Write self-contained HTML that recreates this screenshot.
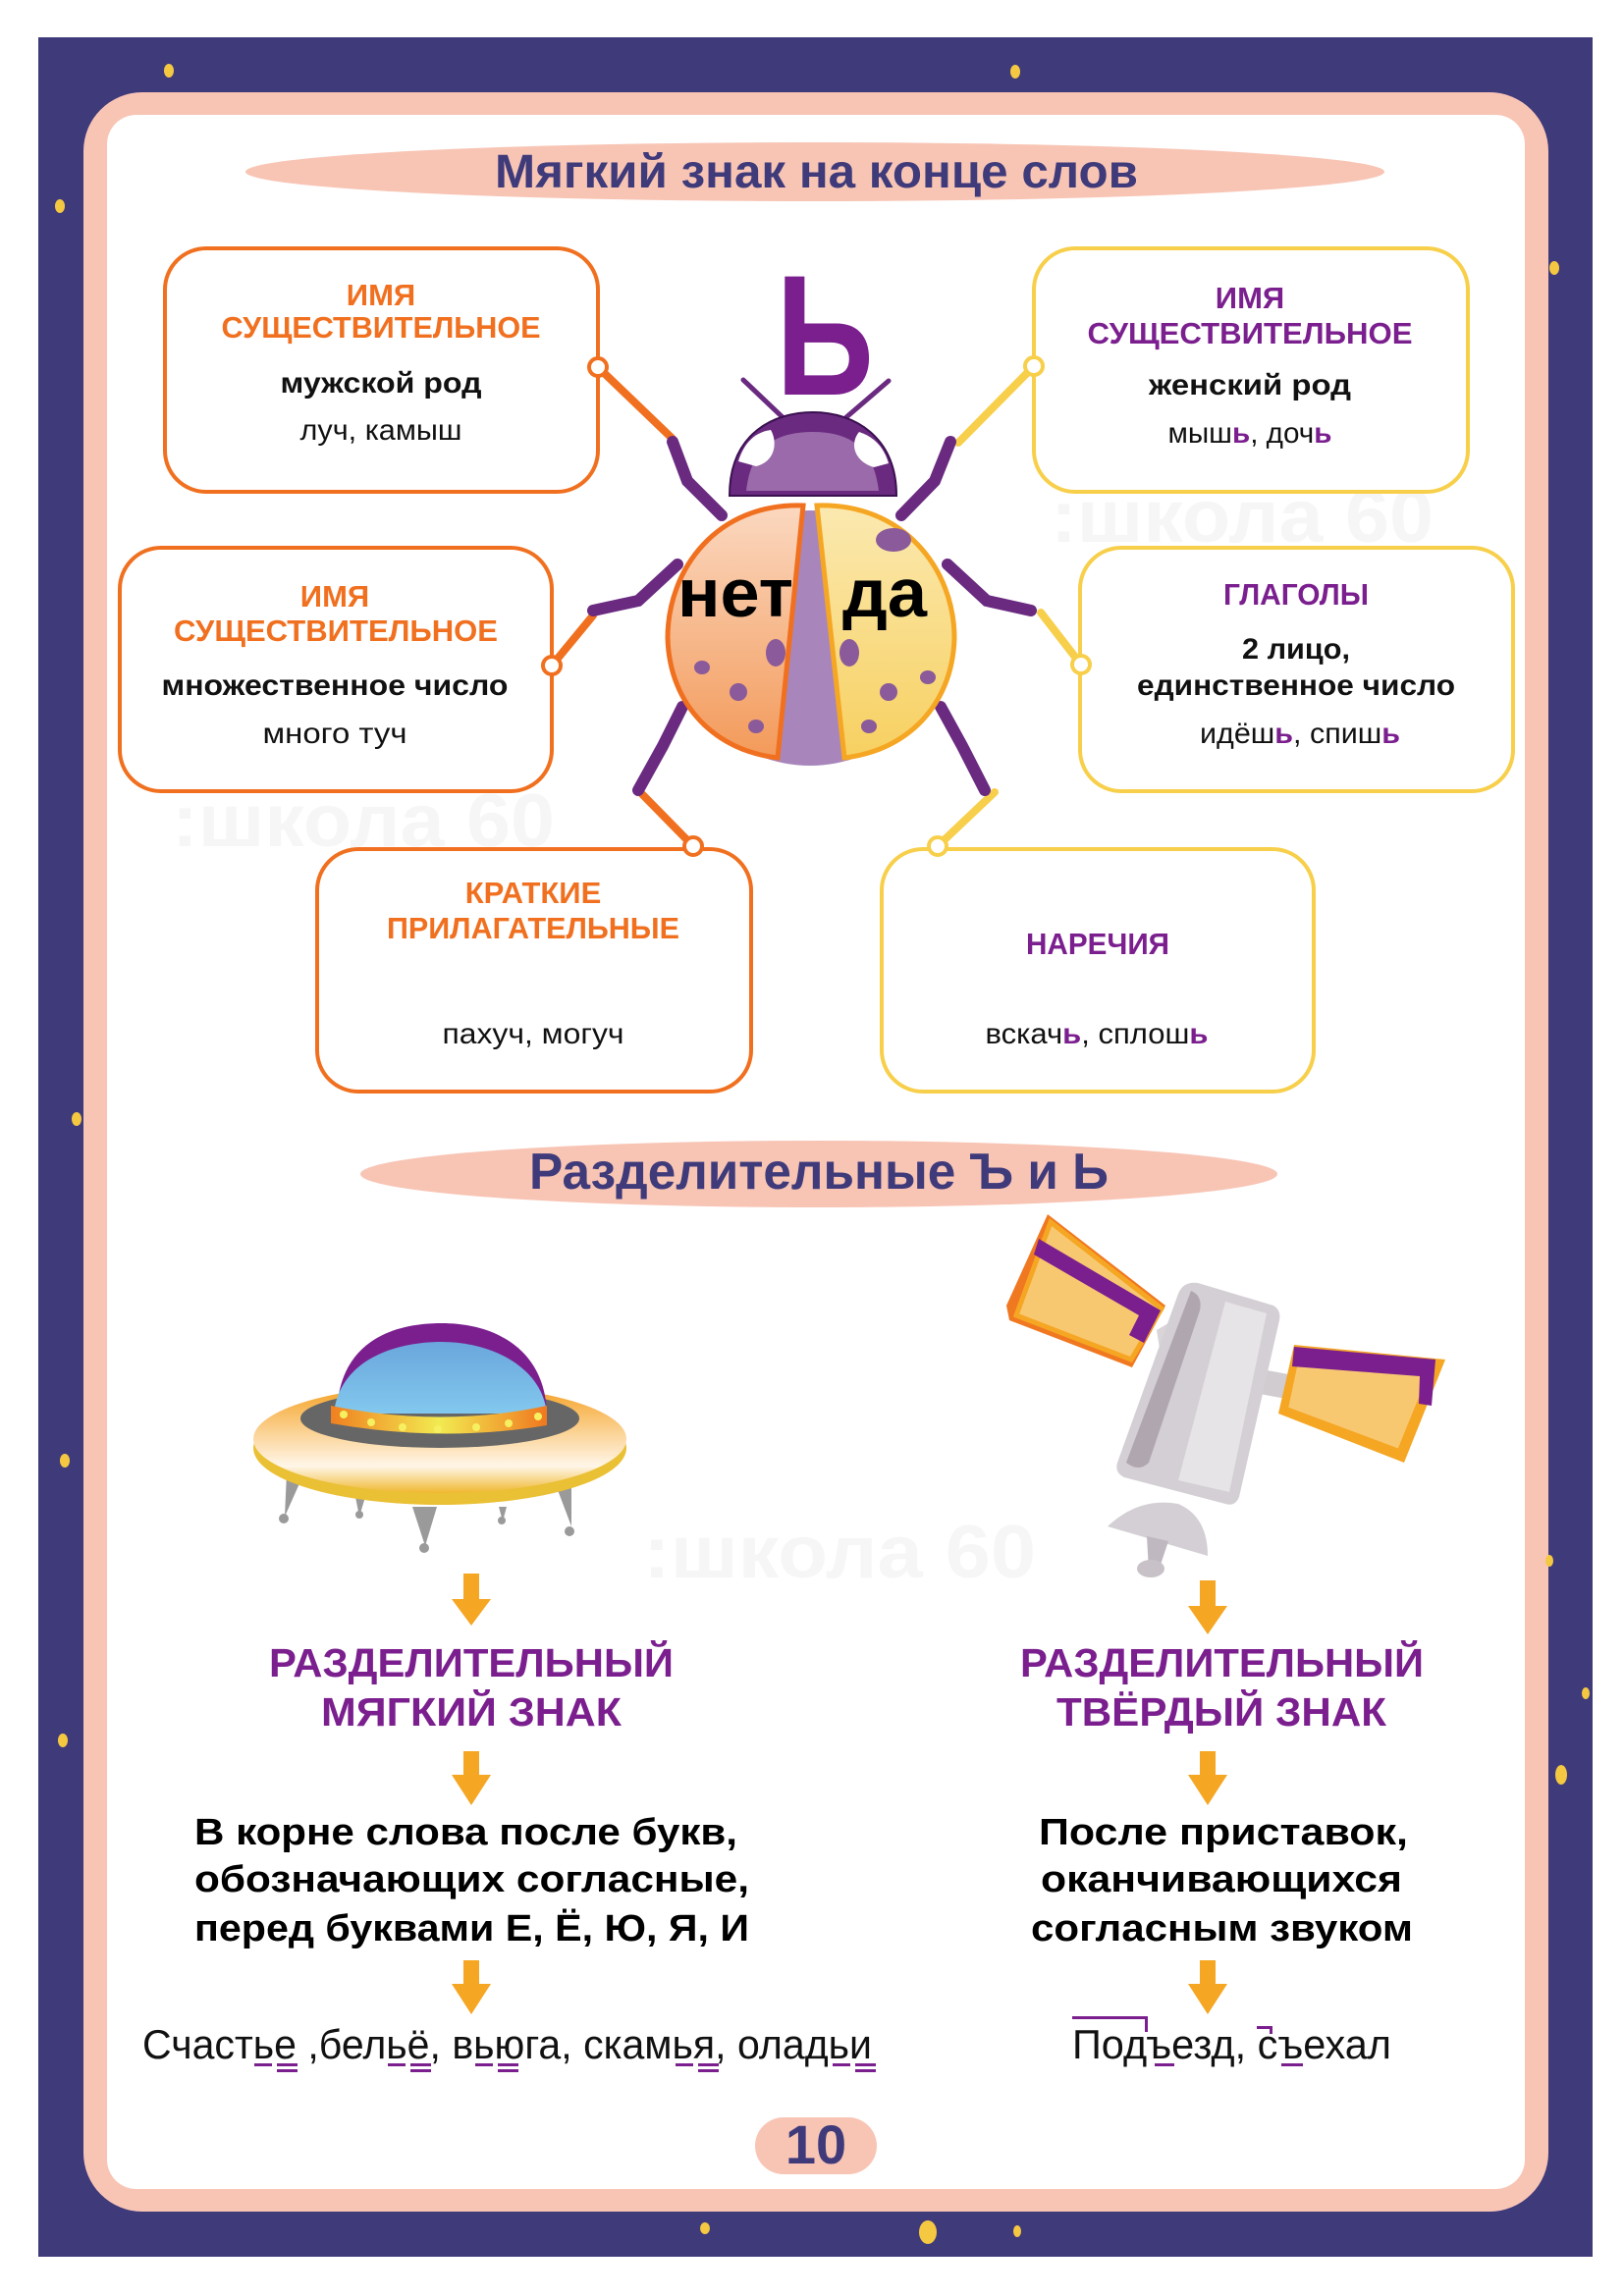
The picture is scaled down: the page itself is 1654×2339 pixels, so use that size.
<!DOCTYPE html>
<html><head><meta charset="utf-8"><style>
html,body{margin:0;padding:0;background:#fff}
svg{display:block}
text{font-family:"Liberation Sans",sans-serif}
</style></head><body>
<svg width="1654" height="2339" viewBox="0 0 1654 2339" xmlns="http://www.w3.org/2000/svg">
<defs>
<linearGradient id="lo" x1="0" y1="0" x2="0" y2="1"><stop offset="0" stop-color="#fbd8c0"/><stop offset="1" stop-color="#f39a5a"/></linearGradient>
<linearGradient id="ry" x1="0" y1="0" x2="0" y2="1"><stop offset="0" stop-color="#fbe9b0"/><stop offset="1" stop-color="#f7d060"/></linearGradient>
<linearGradient id="disk" x1="0" y1="0" x2="0" y2="1"><stop offset="0" stop-color="#f5a020"/><stop offset="0.75" stop-color="#fff6e8"/><stop offset="1" stop-color="#f0b830"/></linearGradient>
<linearGradient id="dome" x1="0" y1="0" x2="0" y2="1"><stop offset="0" stop-color="#6aa6dc"/><stop offset="1" stop-color="#82c8ee"/></linearGradient>
<linearGradient id="band" x1="0" y1="0" x2="1" y2="0"><stop offset="0" stop-color="#f08020"/><stop offset="0.5" stop-color="#f2ea50"/><stop offset="1" stop-color="#f07820"/></linearGradient>
</defs>
<rect width="1654" height="2339" fill="#fff"/>
<rect x="39" y="38" width="1583" height="2261" fill="#3f3a7a"/>
<rect x="85" y="94" width="1492" height="2159" rx="60" fill="#f8c5b5"/>
<rect x="109" y="117" width="1444" height="2113" rx="30" fill="#fff"/>
<g fill="#f5c842">
<ellipse cx="172" cy="72" rx="5" ry="7"/><ellipse cx="1034" cy="73" rx="5" ry="7"/><ellipse cx="61" cy="210" rx="5" ry="7"/><ellipse cx="1583" cy="273" rx="5" ry="7"/><ellipse cx="78" cy="1140" rx="5" ry="7"/><ellipse cx="66" cy="1488" rx="5" ry="7"/><ellipse cx="64" cy="1773" rx="5" ry="7"/><ellipse cx="1590" cy="1808" rx="6" ry="10"/><ellipse cx="1615" cy="1725" rx="4" ry="6"/><ellipse cx="945" cy="2274" rx="9" ry="12"/><ellipse cx="718" cy="2270" rx="5" ry="6"/><ellipse cx="1036" cy="2273" rx="4" ry="6"/><ellipse cx="1578" cy="1590" rx="4" ry="6"/></g>
<g fill="#f6f6f6" font-weight="bold" font-size="76"><text x="1070" y="552" textLength="390" lengthAdjust="spacingAndGlyphs">:школа 60</text><text x="175" y="862" textLength="390" lengthAdjust="spacingAndGlyphs">:школа 60</text><text x="655" y="1607" textLength="400" lengthAdjust="spacingAndGlyphs">:школа 60</text></g>
<ellipse cx="830" cy="175" rx="580" ry="30" fill="#f8c5b5"/>
<text x="504" y="191" font-size="48" font-weight="bold" fill="#3f3a7a" textLength="655" lengthAdjust="spacingAndGlyphs">Мягкий знак на конце слов</text>
<ellipse cx="834" cy="1196" rx="467" ry="34" fill="#f8c5b5"/>
<text x="539" y="1211" font-size="52" font-weight="bold" fill="#3f3a7a" textLength="590" lengthAdjust="spacingAndGlyphs">Разделительные Ъ и Ь</text>
<g fill="#fff" stroke-width="4">
<rect x="168" y="253" width="441" height="248" rx="42" stroke="#f07020"/>
<rect x="1053" y="253" width="442" height="248" rx="42" stroke="#f7cf4a"/>
<rect x="122" y="558" width="440" height="248" rx="42" stroke="#f07020"/>
<rect x="1100" y="558" width="441" height="248" rx="42" stroke="#f7cf4a"/>
<rect x="323" y="865" width="442" height="247" rx="42" stroke="#f07020"/>
<rect x="898" y="865" width="440" height="247" rx="42" stroke="#f7cf4a"/>
</g>
<g stroke-width="8" stroke-linecap="round">
<line x1="609" y1="374" x2="685" y2="447" stroke="#f07020"/>
<line x1="562" y1="678" x2="604" y2="627" stroke="#f07020"/>
<line x1="706" y1="862" x2="652" y2="807" stroke="#f07020"/>
<line x1="1053" y1="373" x2="976" y2="451" stroke="#f7cf4a"/>
<line x1="1101" y1="677" x2="1060" y2="624" stroke="#f7cf4a"/>
<line x1="955" y1="862" x2="1013" y2="807" stroke="#f7cf4a"/>
</g>
<g fill="#fff" stroke-width="4">
<circle cx="609" cy="374" r="9" stroke="#f07020"/><circle cx="562" cy="678" r="9" stroke="#f07020"/><circle cx="706" cy="862" r="9" stroke="#f07020"/>
<circle cx="1053" cy="373" r="9" stroke="#f7cf4a"/><circle cx="1101" cy="677" r="9" stroke="#f7cf4a"/><circle cx="955" cy="862" r="9" stroke="#f7cf4a"/>
</g>
<g font-weight="bold" text-anchor="middle">
<g fill="#f07020" font-size="31">
<text x="388" y="311">ИМЯ</text><text x="388" y="344" textLength="325" lengthAdjust="spacingAndGlyphs">СУЩЕСТВИТЕЛЬНОЕ</text>
<text x="341" y="618">ИМЯ</text><text x="342" y="653" textLength="330" lengthAdjust="spacingAndGlyphs">СУЩЕСТВИТЕЛЬНОЕ</text>
<text x="543" y="920">КРАТКИЕ</text><text x="543" y="956" textLength="298" lengthAdjust="spacingAndGlyphs">ПРИЛАГАТЕЛЬНЫЕ</text>
</g>
<g fill="#7b1f8f" font-size="31">
<text x="1273" y="314">ИМЯ</text><text x="1273" y="350" textLength="331" lengthAdjust="spacingAndGlyphs">СУЩЕСТВИТЕЛЬНОЕ</text>
<text x="1320" y="616" textLength="148" lengthAdjust="spacingAndGlyphs">ГЛАГОЛЫ</text>
<text x="1118" y="972" textLength="146" lengthAdjust="spacingAndGlyphs">НАРЕЧИЯ</text>
</g>
<g fill="#111" font-size="30">
<text x="388" y="400" textLength="205" lengthAdjust="spacingAndGlyphs">мужской род</text>
<text x="1273" y="402" textLength="206" lengthAdjust="spacingAndGlyphs">женский род</text>
<text x="341" y="708" textLength="353" lengthAdjust="spacingAndGlyphs">множественное число</text>
<text x="1320" y="671" textLength="110" lengthAdjust="spacingAndGlyphs">2 лицо,</text>
<text x="1320" y="708" textLength="324" lengthAdjust="spacingAndGlyphs">единственное число</text>
</g>
</g>
<g text-anchor="middle" font-size="30" fill="#111">
<text x="388" y="448" textLength="165" lengthAdjust="spacingAndGlyphs">луч, камыш</text>
<text x="1273" y="451" textLength="167" lengthAdjust="spacingAndGlyphs">мыш<tspan fill="#7b1f8f" font-weight="bold">ь</tspan>, доч<tspan fill="#7b1f8f" font-weight="bold">ь</tspan></text>
<text x="341" y="757" textLength="147" lengthAdjust="spacingAndGlyphs">много туч</text>
<text x="1324" y="757" textLength="204" lengthAdjust="spacingAndGlyphs">идёш<tspan fill="#7b1f8f" font-weight="bold">ь</tspan>, спиш<tspan fill="#7b1f8f" font-weight="bold">ь</tspan></text>
<text x="543" y="1063" textLength="185" lengthAdjust="spacingAndGlyphs">пахуч, могуч</text>
<text x="1117" y="1063" textLength="227" lengthAdjust="spacingAndGlyphs">вскач<tspan fill="#7b1f8f" font-weight="bold">ь</tspan>, сплош<tspan fill="#7b1f8f" font-weight="bold">ь</tspan></text>
</g>
<text x="790" y="402" font-size="175" font-weight="bold" fill="#7b1f8f" textLength="100" lengthAdjust="spacingAndGlyphs">Ь</text>
<g stroke="#6a2a80" stroke-width="12" stroke-linecap="round" fill="none">
<polyline points="685,450 700,490 735,525"/>
<polyline points="968,450 952,490 918,525"/>
<polyline points="604,622 650,612 690,575"/>
<polyline points="1050,622 1005,612 965,575"/>
<polyline points="650,805 675,760 695,720"/>
<polyline points="1003,805 980,760 958,720"/>
<line x1="797" y1="425" x2="757" y2="387" stroke-width="5"/>
<line x1="862" y1="425" x2="905" y2="388" stroke-width="5"/>
</g>
<path d="M743 505 C743 440 790 420 828 420 C870 420 913 445 913 505 Z" fill="#6a2a80" stroke="#3a1050" stroke-width="2"/>
<path d="M760 500 C765 455 790 440 828 440 C870 440 890 460 895 500 Z" fill="#9a6aaa"/>
<path d="M752 470 C758 450 770 440 785 438 C792 450 790 470 770 475 Z" fill="#fff"/>
<path d="M905 472 C900 455 890 445 875 440 C865 452 870 470 890 476 Z" fill="#fff"/>
<ellipse cx="825" cy="650" rx="135" ry="130" fill="#a886bb"/>
<path d="M818 515 C730 512 680 580 680 650 C682 720 730 765 792 772 L818 515 Z" fill="url(#lo)" stroke="#f07020" stroke-width="5"/>
<path d="M832 515 C920 512 972 580 972 650 C970 720 922 765 860 772 L832 515 Z" fill="url(#ry)" stroke="#f5a623" stroke-width="5"/>
<g fill="#8a5a9a">
<ellipse cx="790" cy="665" rx="10" ry="14"/><ellipse cx="715" cy="680" rx="8" ry="7"/><ellipse cx="752" cy="705" rx="9" ry="9"/><ellipse cx="770" cy="740" rx="8" ry="7"/>
<ellipse cx="865" cy="665" rx="10" ry="14"/><ellipse cx="905" cy="705" rx="9" ry="9"/><ellipse cx="945" cy="690" rx="8" ry="7"/><ellipse cx="885" cy="740" rx="8" ry="7"/><ellipse cx="910" cy="550" rx="18" ry="12"/>
</g>
<text x="690" y="628" font-size="70" font-weight="bold" fill="#000" textLength="118" lengthAdjust="spacingAndGlyphs">нет</text>
<text x="858" y="628" font-size="70" font-weight="bold" fill="#000" textLength="86" lengthAdjust="spacingAndGlyphs">да</text>
<g fill="#9a9a9a">
<polygon points="292,1500 310,1500 290,1545"/><polygon points="362,1525 372,1525 366,1545"/><polygon points="420,1535 445,1535 433,1575"/><polygon points="508,1535 516,1535 512,1550"/><polygon points="565,1510 582,1510 582,1555"/>
<circle cx="289" cy="1547" r="5"/><circle cx="366" cy="1543" r="4"/><circle cx="432" cy="1577" r="5"/><circle cx="511" cy="1549" r="4"/><circle cx="580" cy="1560" r="5"/>
</g>
<ellipse cx="448" cy="1475" rx="190" ry="58" fill="#eac034"/>
<ellipse cx="448" cy="1466" rx="190" ry="55" fill="url(#disk)"/>
<ellipse cx="448" cy="1445" rx="142" ry="30" fill="#666"/>
<path d="M343 1440 C345 1370 395 1348 450 1348 C505 1348 555 1375 557 1440 Z" fill="#7b1f8f"/>
<path d="M340 1440 C345 1390 395 1367 450 1367 C500 1367 552 1392 557 1440 Z" fill="url(#dome)"/>
<path d="M337 1432 Q450 1455 557 1432 L557 1452 Q450 1470 337 1450 Z" fill="url(#band)"/>
<g fill="#f6f060"><circle cx="350" cy="1441" r="4"/><circle cx="378" cy="1449" r="4"/><circle cx="410" cy="1454" r="4"/><circle cx="446" cy="1456" r="4"/><circle cx="485" cy="1454" r="4"/><circle cx="518" cy="1450" r="4"/><circle cx="548" cy="1443" r="4"/></g>
<polygon points="1067,1237 1187,1330 1153,1393 1028,1345 1025,1330" fill="#f07820"/>
<polygon points="1070,1245 1183,1333 1152,1385 1035,1340" fill="#f8c870" stroke="#f5a623" stroke-width="5"/>
<polygon points="1058,1262 1182,1335 1165,1368 1150,1360 1160,1340 1053,1278" fill="#7b1f8f"/>
<polygon points="1178,1355 1195,1345 1200,1375 1182,1380" fill="#d8d4d8"/>
<polygon points="1285,1395 1312,1400 1310,1425 1283,1420" fill="#d0ccd0"/>
<path d="M1220 1307 L1297 1330 Q1305 1335 1303 1345 L1262 1525 Q1258 1535 1248 1532 L1145 1505 Q1135 1500 1138 1490 L1200 1318 Q1205 1305 1220 1307 Z" fill="#d4cfd4"/>
<path d="M1213 1315 Q1225 1320 1222 1335 L1170 1490 Q1160 1500 1147 1490 Z" fill="#b0a6b0"/>
<path d="M1248 1326 L1290 1338 L1252 1520 L1200 1508 Z" fill="#e6e4e6"/>
<path d="M1128 1555 Q1160 1525 1200 1532 Q1230 1545 1230 1585 Z" fill="#d4cfd4"/>
<polygon points="1168,1565 1190,1570 1180,1600 1170,1600" fill="#c0b8c0"/>
<ellipse cx="1172" cy="1598" rx="14" ry="9" fill="#c8c2c8"/>
<polygon points="1318,1370 1472,1385 1430,1490 1302,1440" fill="#f5a623"/>
<polygon points="1322,1378 1460,1392 1425,1478 1310,1435" fill="#f8c870" stroke="#f5a623" stroke-width="4"/>
<polygon points="1318,1372 1462,1385 1458,1432 1445,1430 1446,1402 1316,1392" fill="#7b1f8f"/>
<g fill="#f5a623">
<path d="M472 1603 h16 v26 h12 l-20 27 l-20 -27 h12 Z"/>
<path d="M472 1784 h16 v24 h12 l-20 31 l-20 -31 h12 Z"/>
<path d="M472 1997 h16 v24 h12 l-20 31 l-20 -31 h12 Z"/>
<path d="M1222 1610 h16 v26 h12 l-20 29 l-20 -29 h12 Z"/>
<path d="M1222 1784 h16 v24 h12 l-20 31 l-20 -31 h12 Z"/>
<path d="M1222 1997 h16 v24 h12 l-20 31 l-20 -31 h12 Z"/>
</g>
<g font-weight="bold" font-size="41" fill="#7b1f8f">
<text x="274" y="1708" textLength="412" lengthAdjust="spacingAndGlyphs">РАЗДЕЛИТЕЛЬНЫЙ</text>
<text x="327" y="1758" textLength="306" lengthAdjust="spacingAndGlyphs">МЯГКИЙ ЗНАК</text>
<text x="1039" y="1708" textLength="411" lengthAdjust="spacingAndGlyphs">РАЗДЕЛИТЕЛЬНЫЙ</text>
<text x="1076" y="1758" textLength="336" lengthAdjust="spacingAndGlyphs">ТВЁРДЫЙ ЗНАК</text>
</g>
<g font-weight="bold" font-size="38" fill="#000">
<text x="198" y="1879" textLength="553" lengthAdjust="spacingAndGlyphs">В корне слова после букв,</text>
<text x="198" y="1927" textLength="565" lengthAdjust="spacingAndGlyphs">обозначающих согласные,</text>
<text x="198" y="1977" textLength="565" lengthAdjust="spacingAndGlyphs">перед буквами Е, Ё, Ю, Я, И</text>
<text x="1058" y="1879" textLength="376" lengthAdjust="spacingAndGlyphs">После приставок,</text>
<text x="1060" y="1927" textLength="368" lengthAdjust="spacingAndGlyphs">оканчивающихся</text>
<text x="1050" y="1977" textLength="389" lengthAdjust="spacingAndGlyphs">согласным звуком</text>
</g>
<g font-size="42" fill="#111">
<text x="145" y="2097" textLength="743" lengthAdjust="spacingAndGlyphs">Счастье ,бельё, вьюга, скамья, оладьи</text>
<text x="1092" y="2097" textLength="325" lengthAdjust="spacingAndGlyphs">Подъезд, съехал</text>
</g>
<g fill="#7b1f8f">
<rect x="259" y="2102" width="18" height="3"/><rect x="282" y="2102" width="21" height="3"/><rect x="282" y="2108" width="21" height="3"/>
<rect x="395" y="2102" width="18" height="3"/><rect x="418" y="2102" width="21" height="3"/><rect x="418" y="2108" width="21" height="3"/>
<rect x="484" y="2102" width="18" height="3"/><rect x="507" y="2102" width="21" height="3"/><rect x="507" y="2108" width="21" height="3"/>
<rect x="688" y="2102" width="18" height="3"/><rect x="711" y="2102" width="21" height="3"/><rect x="711" y="2108" width="21" height="3"/>
<rect x="848" y="2102" width="18" height="3"/><rect x="871" y="2102" width="21" height="3"/><rect x="871" y="2108" width="21" height="3"/>
<rect x="1092" y="2054" width="76" height="3"/><rect x="1166" y="2054" width="3" height="16"/><rect x="1176" y="2102" width="20" height="3"/>
<rect x="1280" y="2064" width="15" height="3"/><rect x="1293" y="2064" width="3" height="8"/><rect x="1305" y="2102" width="22" height="3"/>
</g>
<rect x="769" y="2157" width="124" height="58" rx="29" fill="#f8c5b5"/>
<text x="831" y="2204" text-anchor="middle" font-size="56" font-weight="bold" fill="#3f3a7a">10</text>
</svg>
</body></html>
